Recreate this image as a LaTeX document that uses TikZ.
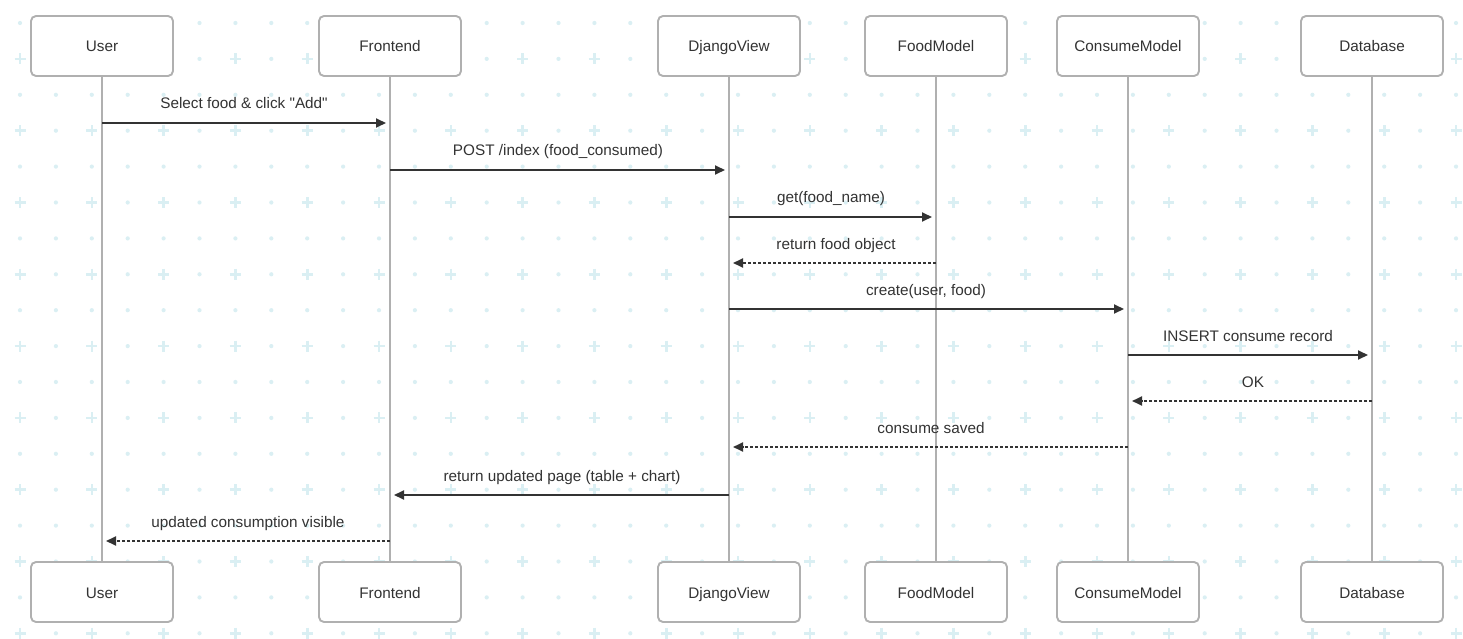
\documentclass[tikz,border=0pt]{standalone}
\usepackage{fontspec}
\setmainfont{Liberation Sans}
\usetikzlibrary{arrows.meta}
\definecolor{ink}{HTML}{333333}
\definecolor{edgec}{HTML}{B0B0B0}
\definecolor{patc}{HTML}{DAEFF3}
\begin{document}
\begin{tikzpicture}[x=1pt,y=-1pt,
  actor/.style={draw=edgec, line width=1.9pt, fill=white, rounded corners=5pt,
    minimum width=142pt, minimum height=60pt, inner sep=0pt,
    text height=12pt, text depth=0pt,
    font=\fontsize{15.3}{18}\selectfont, text=ink},
  life/.style={draw=edgec, line width=2pt},
  msg/.style={draw=ink, line width=1.8pt, -{Triangle[length=10pt,width=9pt]}, shorten >=4pt},
  reply/.style={msg, dash pattern=on 3pt off 2pt},
  lbl/.style={font=\fontsize{15.3}{18}\selectfont, text=ink, anchor=base, inner sep=0pt},
  ]
\useasboundingbox (0,0) rectangle (1463,639);
\fill[white] (0,0) rectangle (1463,639);
% background pattern
\foreach \i in {0,...,40}{
  \foreach \j in {0,...,17}{
    \pgfmathsetmacro\px{20+35.9*\i}
    \pgfmathsetmacro\py{23+35.9*\j}
    \pgfmathtruncatemacro\isplus{and(isodd(\j),iseven(\i))}
    \ifnum\isplus=1
      \draw[patc, line width=2.6pt] (\px-5.5,\py) -- (\px+5.5,\py) (\px,\py-5.5) -- (\px,\py+5.5);
    \else
      \fill[patc] (\px,\py) circle (2.1pt);
    \fi
  }
}
% actors
\node[actor] (uT) at (102,46) {User};
\node[actor] (fT) at (390,46) {Frontend};
\node[actor] (dT) at (729,46) {DjangoView};
\node[actor] (mT) at (936,46) {FoodModel};
\node[actor] (cT) at (1128,46) {ConsumeModel};
\node[actor] (bT) at (1372,46) {Database};
\node[actor] (uB) at (102,592) {User};
\node[actor] (fB) at (390,592) {Frontend};
\node[actor] (dB) at (729,592) {DjangoView};
\node[actor] (mB) at (936,592) {FoodModel};
\node[actor] (cB) at (1128,592) {ConsumeModel};
\node[actor] (bB) at (1372,592) {Database};
% lifelines
\draw[life] (uT) -- (uB);
\draw[life] (fT) -- (fB);
\draw[life] (dT) -- (dB);
\draw[life] (mT) -- (mB);
\draw[life] (cT) -- (cB);
\draw[life] (bT) -- (bB);
% messages
\draw[msg] (uT |- 0,123) -- (fT |- 0,123);
\node[lbl] (l1) at (244,109) {Select food \& click \textquotedbl Add\textquotedbl};
\draw[msg] (fT |- 0,170) -- (dT |- 0,170);
\node[lbl] (l2) at (558,156) {POST /index (food\_consumed)};
\draw[msg] (dT |- 0,217) -- (mT |- 0,217);
\node[lbl] (l3) at (831,203) {get(food\_name)};
\draw[reply] (mT |- 0,263) -- (dT |- 0,263);
\node[lbl] (l4) at (836,249) {return food object};
\draw[msg] (dT |- 0,309) -- (cT |- 0,309);
\node[lbl] (l5) at (926,295) {create(user, food)};
\draw[msg] (cT |- 0,355) -- (bT |- 0,355);
\node[lbl] (l6) at (1248,341) {INSERT consume record};
\draw[reply] (bT |- 0,401) -- (cT |- 0,401);
\node[lbl] (l7) at (1253,387) {OK};
\draw[reply] (cT |- 0,447) -- (dT |- 0,447);
\node[lbl] (l8) at (931,433) {consume saved};
\draw[msg] (dT |- 0,495) -- (fT |- 0,495);
\node[lbl] (l9) at (562,481) {return updated page (table + chart)};
\draw[reply] (fT |- 0,541) -- (uT |- 0,541);
\node[lbl] (l10) at (248,527) {updated consumption visible};
\end{tikzpicture}
\end{document}
